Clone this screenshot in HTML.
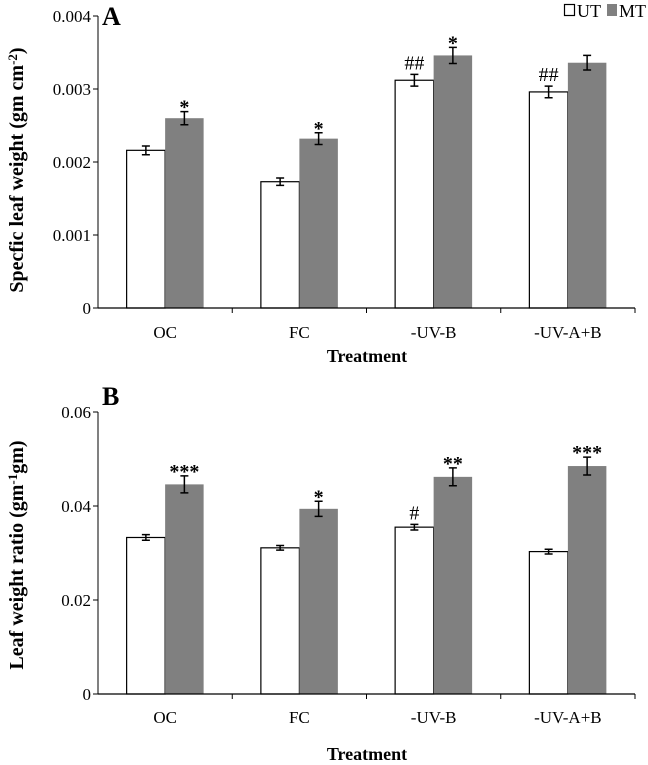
<!DOCTYPE html>
<html><head><meta charset="utf-8"><style>
html,body{margin:0;padding:0;background:#fff;}
svg{display:block;font-family:"Liberation Serif",serif;}
</style></head><body>
<svg id="fig" width="648" height="765" viewBox="0 0 648 765" xmlns="http://www.w3.org/2000/svg"></svg>
<script>
const categories = ["OC","FC","-UV-B","-UV-A+B"];
const slwUT = [0.00216,0.00173,0.00312,0.00296];
const slwMT = [0.00260,0.00232,0.00346,0.00336];
const slwUTerr = [0.00006,0.00005,0.00008,0.00008];
const slwMTerr = [0.00009,0.00008,0.00011,0.00010];
const slwUTmark = ["","","##","##"];
const slwMTmark = ["*","*","*",""];
const slwTicks = [0,0.001,0.002,0.003,0.004];
const slwTickLabels = ["0","0.001","0.002","0.003","0.004"];
const lwrUT = [0.0333,0.0311,0.0355,0.0303];
const lwrMT = [0.0446,0.0394,0.0462,0.0485];
const lwrUTerr = [0.0006,0.0005,0.0006,0.0005];
const lwrMTerr = [0.0018,0.0016,0.0019,0.0019];
const lwrUTmark = ["","","#",""];
const lwrMTmark = ["***","*","**","***"];
const lwrTicks = [0,0.02,0.04,0.06];
const lwrTickLabels = ["0","0.02","0.04","0.06"];

const svg=document.getElementById('fig');
const NS="http://www.w3.org/2000/svg";
function mk(tag,attrs,parent,text){
  const e=document.createElementNS(NS,tag);
  for(const k in attrs)e.setAttribute(k,attrs[k]);
  if(text!==undefined)e.textContent=text;
  (parent||svg).appendChild(e);return e;
}

function panel(p){
  const g=mk('g',{});
  
  
  const x0=98,x1=635;
  const yS=v=>p.y0-(v-p.min)/(p.max-p.min)*(p.y0-p.yTop);
  const band=(x1-x0)/categories.length;
  const bw=38.5;
  const ya=mk('line',{x1:x0,y1:p.yTop,x2:x0,y2:p.y0,stroke:'#000','stroke-width':1},g);
  
  p.ticks.forEach((t,i)=>{
    const y=yS(t);
    const tk=mk('line',{x1:x0-5,y1:y,x2:x0,y2:y,stroke:'#000','stroke-width':1},g);
    
    const tl=mk('text',{x:x0-7,y:y+6,'text-anchor':'end','font-size':17},g,p.tickLabels[i]);
    
  });
  categories.forEach((c,i)=>{
    const cx=x0+band*(i+0.5);
    [[p.ut,p.utErr,p.utMark,'#fff',cx-bw,'bar-ut'],[p.mt,p.mtErr,p.mtMark,'#808080',cx,'bar-mt']].forEach(s=>{
      const v=s[0][i],e=s[1][i],bx=s[4];
      const r=mk('rect',{x:bx,y:yS(v),width:bw,height:p.y0-yS(v),fill:s[3],stroke:s[3]==='#fff'?'#000':'none','stroke-width':1.2},g);
      
      
      const mx=bx+bw/2,yt=yS(v+e),yb=yS(v-e);
      const eb=mk('path',{d:`M${mx},${yt}V${yb}M${mx-4},${yt}H${mx+4}M${mx-4},${yb}H${mx+4}`,stroke:'#000','stroke-width':1.5,fill:'none'},g);
      
      if(s[2][i]){
        const isStar=s[2][i].indexOf('*')>=0;
        const m=mk('text',{x:mx,y:yt-(isStar?-2:5),'text-anchor':'middle','font-size':isStar?20:20,'font-weight':isStar?'bold':'normal'},g,s[2][i]);
        
      }
    });
    const tk=mk('line',{x1:x0+band*(i+1),y1:p.y0,x2:x0+band*(i+1),y2:p.y0+5,stroke:'#000'},g);
    
    const cl=mk('text',{x:cx,y:p.catY,'text-anchor':'middle','font-size':17},g,c);
    
  });
  const xa=mk('line',{x1:x0,y1:p.y0,x2:x1,y2:p.y0,stroke:'#000','stroke-width':1.2},g);
  
  const xt=mk('text',{x:367,y:p.xtY,'text-anchor':'middle','font-size':18,'font-weight':'bold'},g,'Treatment');
  
  const yt=mk('text',{x:0,y:0,'text-anchor':'middle','font-size':20,'font-weight':'bold',transform:`translate(${p.ytX},${p.ytY}) rotate(-90)`},g);
  
  yt.innerHTML=p.ytitle;
  const lt=mk('text',{x:102,y:p.letterY,'font-size':26,'font-weight':'bold'},g,p.letter);
  
}

panel({name:'panel-a',min:0,max:0.004,y0:308,yTop:16,ticks:slwTicks,tickLabels:slwTickLabels,
  ut:slwUT,mt:slwMT,utErr:slwUTerr,mtErr:slwMTerr,utMark:slwUTmark,mtMark:slwMTmark,
  catY:338,xtY:362,ytX:23,ytY:170,letter:'A',letterY:25,
  ytitle:'Specfic leaf weight (gm cm<tspan dy="-6" font-size="13">-2</tspan><tspan dy="6">)</tspan>'});
panel({name:'panel-b',min:0,max:0.06,y0:694,yTop:412,ticks:lwrTicks,tickLabels:lwrTickLabels,
  ut:lwrUT,mt:lwrMT,utErr:lwrUTerr,mtErr:lwrMTerr,utMark:lwrUTmark,mtMark:lwrMTmark,
  catY:723,xtY:760,ytX:23,ytY:555,letter:'B',letterY:405,
  ytitle:'Leaf  weight ratio (gm<tspan dy="-6" font-size="13">-1</tspan><tspan dy="6">gm)</tspan>'});

const lg=mk('g',{});

const l1=mk('rect',{x:564.5,y:4.5,width:10,height:11,fill:'#fff',stroke:'#000','stroke-width':1.2},lg);

const t1=mk('text',{x:577,y:17,'font-size':18},lg,'UT');

const l2=mk('rect',{x:607,y:4,width:10,height:12,fill:'#808080'},lg);

const t2=mk('text',{x:619,y:17,'font-size':18},lg,'MT');

</script>
</body></html>
